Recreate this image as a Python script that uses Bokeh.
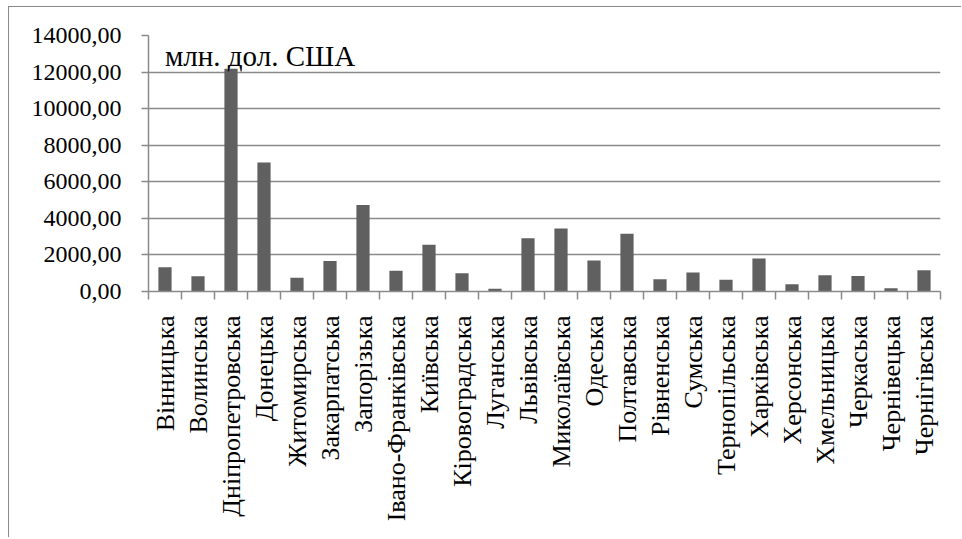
from bokeh.plotting import figure
from bokeh.models import FixedTicker, CustomJSTickFormatter, Label, ColumnDataSource, Range1d
from bokeh.embed import file_html
from bokeh.resources import INLINE
import math

regions = ["Вінницька", "Волинська", "Дніпропетровська", "Донецька", "Житомирська",
           "Закарпатська", "Запорізька", "Івано-Франківська", "Київська", "Кіровоградська",
           "Луганська", "Львівська", "Миколаївська", "Одеська", "Полтавська", "Рівненська",
           "Сумська", "Тернопільська", "Харківська", "Херсонська", "Хмельницька",
           "Черкаська", "Чернівецька", "Чернігівська"]
values = [1320, 830, 12180, 7050, 750, 1670, 4730, 1140, 2550, 1000,
          150, 2910, 3440, 1690, 3160, 670, 1040, 640, 1800, 400, 890,
          850, 180, 1160]
y_ticks = [0, 2000, 4000, 6000, 8000, 10000, 12000, 14000]
y_tick_labels = ["0,00", "2000,00", "4000,00", "6000,00", "8000,00",
                 "10000,00", "12000,00", "14000,00"]
unit_label = "млн. дол. США"

FONT = "Liberation Serif"
GRID = "#8a8a8a"

n = len(regions)
centers = [i + 0.5 for i in range(n)]
src = ColumnDataSource(dict(x=centers, top=values, name=regions))

p = figure(output_backend="svg", toolbar_location=None,
           frame_width=792, frame_height=256,
           min_border_left=139, min_border_right=21,
           min_border_top=28, min_border_bottom=246,
           x_range=Range1d(0, n), y_range=Range1d(0, 14000))
p.styles = {"margin-left": "8px", "margin-top": "6px",
            "border-left": "1.5px solid #8a8a8a",
            "border-top": "1.5px solid #8a8a8a"}
p.outline_line_color = None
p.background_fill_color = "white"
p.border_fill_color = "white"

p.vbar(x="x", top="top", width=0.4, source=src, fill_color="#606060", line_color=None)

# y axis
p.yaxis.ticker = FixedTicker(ticks=y_ticks, minor_ticks=[])
p.yaxis.major_label_overrides = {t: l for t, l in zip(y_ticks, y_tick_labels)}
p.yaxis.major_tick_out = 7
p.yaxis.major_tick_in = 0
p.yaxis.minor_tick_line_color = None
p.yaxis.axis_line_color = GRID
p.yaxis.axis_line_width = 1.5
p.yaxis.major_tick_line_color = GRID
p.yaxis.major_tick_line_width = 1.5
p.yaxis.major_label_text_font = FONT
p.yaxis.major_label_text_font_size = "24px"
p.yaxis.major_label_text_color = "black"
p.yaxis.major_label_standoff = 20

# x axis: labels at centers, ticks at boundaries
p.xaxis.ticker = FixedTicker(ticks=centers, minor_ticks=list(range(n + 1)))
p.xaxis.formatter = CustomJSTickFormatter(args=dict(labels=regions),
                                          code="return labels[Math.floor(tick)];")
p.xaxis.major_label_orientation = math.pi / 2
p.xaxis.major_tick_line_color = None
p.xaxis.major_tick_out = 8
p.xaxis.minor_tick_out = 8
p.xaxis.minor_tick_in = 0
p.xaxis.minor_tick_line_color = GRID
p.xaxis.minor_tick_line_width = 1.5
p.xaxis.axis_line_color = GRID
p.xaxis.axis_line_width = 1.5
p.xaxis.major_label_text_font = FONT
p.xaxis.major_label_text_font_size = "26px"
p.xaxis.major_label_text_color = "black"
p.xaxis.major_label_standoff = 16

p.xgrid.grid_line_color = None
p.ygrid.ticker = FixedTicker(ticks=y_ticks)
p.ygrid.grid_line_color = GRID
p.ygrid.grid_line_width = 1.5

p.add_layout(Label(x=0.5, y=12870, text=unit_label, text_font=FONT,
                   text_font_size="29px", text_color="black",
                   text_baseline="alphabetic"))

open("out.html", "w").write(file_html(p, INLINE))
